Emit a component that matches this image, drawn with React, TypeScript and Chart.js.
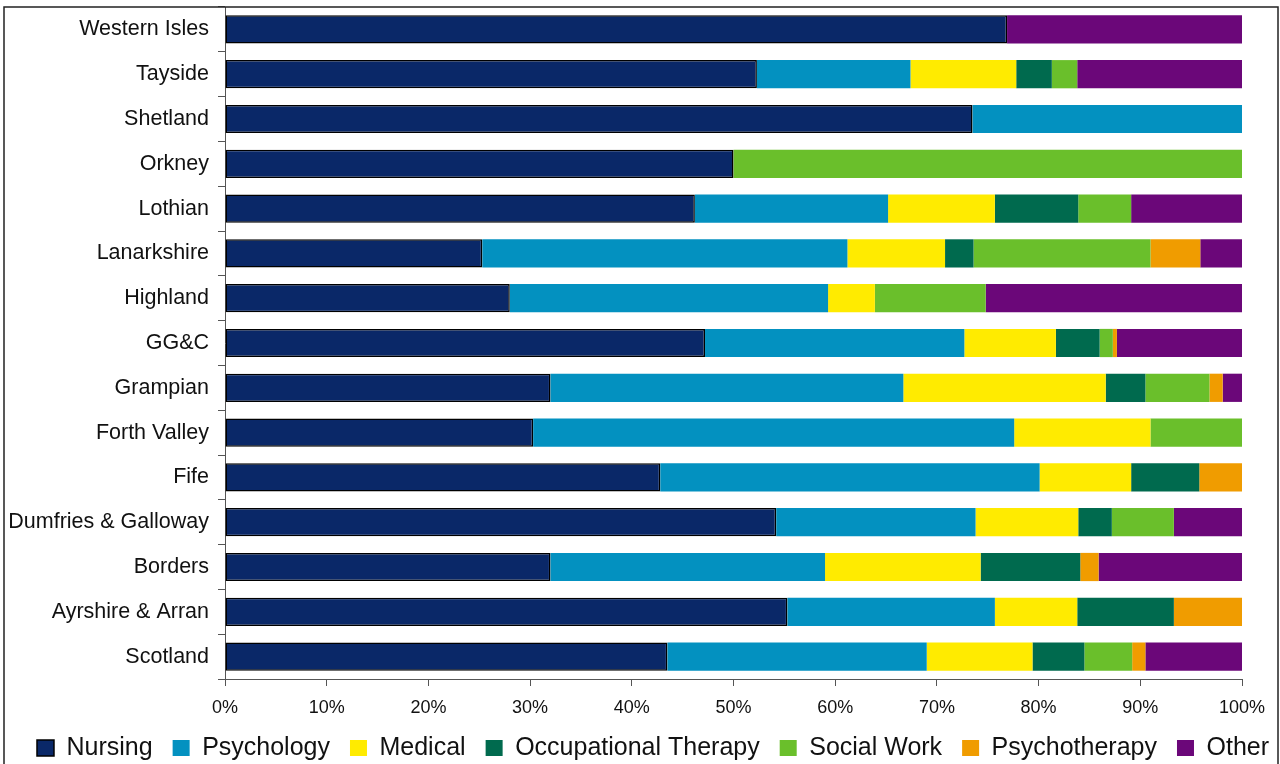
import React, { useEffect, useRef } from "react";
import { Chart, registerables } from "chart.js";

Chart.register(...registerables);

const categories = [
  "Western Isles",
  "Tayside",
  "Shetland",
  "Orkney",
  "Lothian",
  "Lanarkshire",
  "Highland",
  "GG&C",
  "Grampian",
  "Forth Valley",
  "Fife",
  "Dumfries & Galloway",
  "Borders",
  "Ayrshire & Arran",
  "Scotland",
];

const nursing = [76.9, 52.3, 73.5, 50.0, 46.2, 25.3, 28.0, 47.2, 32.0, 30.3, 42.8, 54.2, 32.0, 55.3, 43.5];
const psychology = [0, 15.1, 26.5, 0, 19.0, 35.9, 31.3, 25.5, 34.7, 47.3, 37.3, 19.6, 27.0, 20.4, 25.5];
const medical = [0, 10.4, 0, 0, 10.5, 9.6, 4.6, 9.0, 19.9, 13.4, 9.0, 10.1, 15.3, 8.1, 10.4];
const occupationalTherapy = [0, 3.5, 0, 0, 8.2, 2.8, 0, 4.3, 3.9, 0, 6.7, 3.3, 9.8, 9.5, 5.1];
const socialWork = [0, 2.5, 0, 50.0, 5.2, 17.4, 10.9, 1.3, 6.3, 9.0, 0, 6.1, 0, 0, 4.7];
const psychotherapy = [0, 0, 0, 0, 0, 4.9, 0, 0.4, 1.3, 0, 4.2, 0, 1.8, 6.7, 1.3];
const other = [23.1, 16.2, 0, 0, 10.9, 4.1, 25.2, 12.3, 1.9, 0, 0, 6.7, 14.1, 0, 9.5];

const xTicks = [0, 10, 20, 30, 40, 50, 60, 70, 80, 90, 100];

const FONT = "'Liberation Sans', Arial, sans-serif";

const framePlugin = {
  id: "frame",
  afterLayout(chart: any) {
    const lg = chart.legend;
    if (lg) {
      lg.top -= 3.5;
      lg.bottom -= 3.5;
      lg.left += 13;
      lg.right += 13;
    }
  },
  afterDraw(chart: any) {
    const ctx = chart.ctx;
    ctx.save();
    ctx.strokeStyle = "#222";
    ctx.lineWidth = 1.5;
    ctx.strokeRect(4, 7, 1274, 800);
    ctx.restore();
  },
};

export default function App() {
  const ref = useRef<HTMLCanvasElement | null>(null);

  useEffect(() => {
    document.body.style.margin = "0";
    document.body.style.overflow = "hidden";
    const canvas = ref.current;
    if (!canvas) return;
    const mk = (label: string, data: number[], color: string, border = false) => ({
      label,
      data,
      backgroundColor: color,
      borderColor: border ? "#000" : color,
      borderWidth: border ? 1.5 : 0,
      borderSkipped: false,
      barPercentage: 0.63,
      categoryPercentage: 1,
    });
    const chart = new Chart(canvas, {
      type: "bar",
      data: {
        labels: categories,
        datasets: [
          mk("Nursing", nursing, "#0A2868", true),
          mk("Psychology", psychology, "#0391C0"),
          mk("Medical", medical, "#FFEB00"),
          mk("Occupational Therapy", occupationalTherapy, "#006A4E"),
          mk("Social Work", socialWork, "#6ABF2B"),
          mk("Psychotherapy", psychotherapy, "#F09C00"),
          mk("Other", other, "#6B0779"),
        ] as any,
      },
      options: {
        indexAxis: "y",
        animation: false,
        responsive: false,
        devicePixelRatio: 1,
        layout: { padding: { left: 0, right: 0, top: 7, bottom: -10 } },
        scales: {
          x: {
            stacked: true,
            min: 0,
            max: 100,
            afterBuildTicks(scale: any) {
              scale.ticks = xTicks.map((v) => ({ value: v }));
            },
            afterFit(scale: any) {
              scale.height = 40;
              scale.paddingRight = 38;
            },
            grid: {
              drawOnChartArea: false,
              drawTicks: true,
              tickLength: 7,
              color: "#555",
            },
            border: { display: true, color: "#555", width: 1 },
            ticks: {
              padding: 11,
              color: "#111",
              font: { family: FONT, size: 18 },
              callback: (v: any) => v + "%",
              maxRotation: 0,
            },
          },
          y: {
            stacked: true,
            afterFit(scale: any) {
              scale.width = 225;
              scale.paddingTop = 0;
              scale.paddingBottom = 0;
            },
            grid: {
              drawOnChartArea: false,
              drawTicks: true,
              tickLength: 7,
              color: "#555",
              offset: true,
            },
            border: { display: true, color: "#555", width: 1 },
            ticks: {
              padding: 9,
              color: "#111",
              font: { family: FONT, size: 21.5 },
            },
          },
        },
        plugins: {
          legend: {
            position: "bottom",
            labels: {
              boxWidth: 17,
              boxHeight: 16,
              padding: 20,
              color: "#111",
              font: { family: FONT, size: 25 },
            },
          },
          tooltip: { enabled: false },
        },
      } as any,
      plugins: [framePlugin],
    });
    return () => chart.destroy();
  }, []);

  return (
    <div style={{ width: 1280, height: 764, background: "#fff" }}>
      <canvas ref={ref} width={1280} height={764} style={{ display: "block" }} />
    </div>
  );
}
